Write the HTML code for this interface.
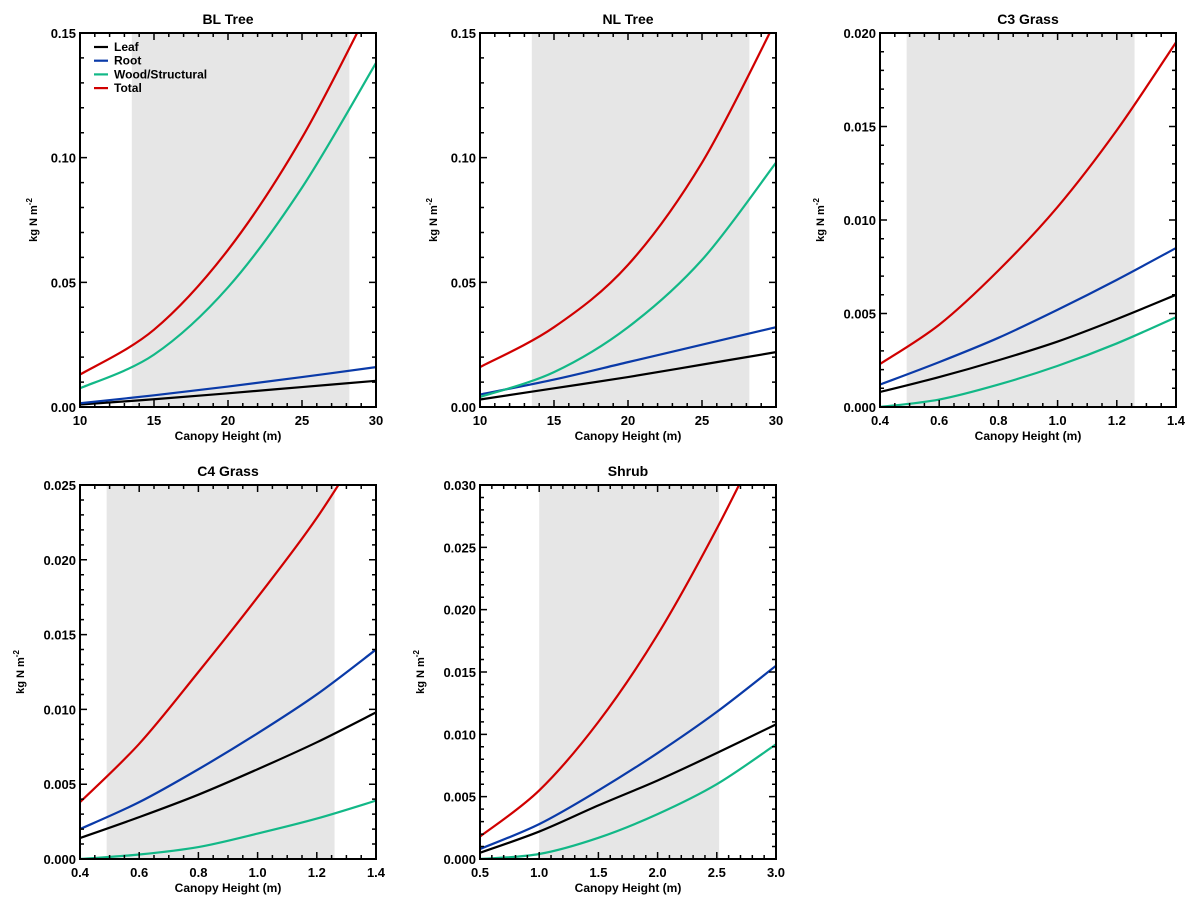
<!DOCTYPE html>
<html><head><meta charset="utf-8">
<style>
body{margin:0;background:#fff;}
svg{display:block;font-family:"Liberation Sans",sans-serif;font-weight:bold;}
</style></head>
<body>
<svg id="c" width="1199" height="911"></svg>
<script>
// ---- data ----
const blX=[10,15,20,25,30];
const blLeaf=[0.001,0.0031,0.0055,0.008,0.0105];
const blRoot=[0.0015,0.0047,0.0082,0.012,0.016];
const blWood=[0.0075,0.021,0.048,0.088,0.138];
const blTotal=[0.013,0.031,0.063,0.108,0.165];
const nlX=[10,15,20,25,30];
const nlLeaf=[0.003,0.0075,0.012,0.017,0.022];
const nlRoot=[0.005,0.011,0.018,0.025,0.032];
const nlWood=[0.004,0.014,0.032,0.059,0.098];
const nlTotal=[0.016,0.032,0.057,0.098,0.155];
const c3X=[0.4,0.6,0.8,1.0,1.2,1.4];
const c3Leaf=[0.0008,0.0016,0.0025,0.0035,0.0047,0.006];
const c3Root=[0.0012,0.0024,0.0037,0.0052,0.0068,0.0085];
const c3Wood=[0.0,0.0004,0.0012,0.0022,0.0034,0.0048];
const c3Total=[0.0023,0.0044,0.0073,0.0107,0.0148,0.0195];
const c4X=[0.4,0.6,0.8,1.0,1.2,1.4];
const c4Leaf=[0.0014,0.0028,0.0043,0.006,0.0078,0.0098];
const c4Root=[0.002,0.0038,0.006,0.0084,0.011,0.014];
const c4Wood=[0.0,0.0003,0.0008,0.0017,0.0027,0.0039];
const c4Total=[0.0038,0.0077,0.0125,0.0175,0.0228,0.029];
const shX=[0.5,1.0,1.5,2.0,2.5,3.0];
const shLeaf=[0.0005,0.0022,0.0043,0.0063,0.0085,0.0108];
const shRoot=[0.0008,0.0028,0.0055,0.0085,0.0118,0.0155];
const shWood=[0.0,0.0004,0.0017,0.0036,0.006,0.0092];
const shTotal=[0.0018,0.0055,0.011,0.018,0.0265,0.036];
const legendLabels=["Leaf","Root","Wood/Structural","Total"];
const colors=["#000000","#0a3aa8","#12b887","#d00000"];

const panels=[
 {name:"bl-tree",title:"BL Tree",x0:80,y0:33,xmin:10,xmax:30,xmaj:[10,15,20,25,30],xminor:1,ymax:0.15,ymaj:[0,0.05,0.10,0.15],yminor:0.01,dec:2,sh:[13.5,28.2],xs:blX,ser:[blLeaf,blRoot,blWood,blTotal],xdec:0,legend:true},
 {name:"nl-tree",title:"NL Tree",x0:480,y0:33,xmin:10,xmax:30,xmaj:[10,15,20,25,30],xminor:1,ymax:0.15,ymaj:[0,0.05,0.10,0.15],yminor:0.01,dec:2,sh:[13.5,28.2],xs:nlX,ser:[nlLeaf,nlRoot,nlWood,nlTotal],xdec:0},
 {name:"c3-grass",title:"C3 Grass",x0:880,y0:33,xmin:0.4,xmax:1.4,xmaj:[0.4,0.6,0.8,1.0,1.2,1.4],xminor:0.05,ymax:0.02,ymaj:[0,0.005,0.010,0.015,0.020],yminor:0.001,dec:3,sh:[0.49,1.26],xs:c3X,ser:[c3Leaf,c3Root,c3Wood,c3Total],xdec:1},
 {name:"c4-grass",title:"C4 Grass",x0:80,y0:485,xmin:0.4,xmax:1.4,xmaj:[0.4,0.6,0.8,1.0,1.2,1.4],xminor:0.05,ymax:0.025,ymaj:[0,0.005,0.010,0.015,0.020,0.025],yminor:0.001,dec:3,sh:[0.49,1.26],xs:c4X,ser:[c4Leaf,c4Root,c4Wood,c4Total],xdec:1},
 {name:"shrub",title:"Shrub",x0:480,y0:485,xmin:0.5,xmax:3.0,xmaj:[0.5,1.0,1.5,2.0,2.5,3.0],xminor:0.1,ymax:0.03,ymaj:[0,0.005,0.010,0.015,0.020,0.025,0.030],yminor:0.001,dec:3,sh:[1.0,2.52],xs:shX,ser:[shLeaf,shRoot,shWood,shTotal],xdec:1}
];
const W=296,H=374;
const NS="http://www.w3.org/2000/svg";
const svg=document.getElementById('c');
function mk(t,a,p){const e=document.createElementNS(NS,t);for(const k in a)e.setAttribute(k,a[k]);(p||svg).appendChild(e);return e;}
function catmull(pts){
 let d="M"+pts[0][0]+","+pts[0][1];
 for(let i=0;i<pts.length-1;i++){
  const p0=pts[Math.max(0,i-1)],p1=pts[i],p2=pts[i+1],p3=pts[Math.min(pts.length-1,i+2)];
  const c1=[p1[0]+(p2[0]-p0[0])/6,p1[1]+(p2[1]-p0[1])/6];
  const c2=[p2[0]-(p3[0]-p1[0])/6,p2[1]-(p3[1]-p1[1])/6];
  d+=" C"+c1[0]+","+c1[1]+" "+c2[0]+","+c2[1]+" "+p2[0]+","+p2[1];
 }
 return d;
}
panels.forEach((p,pi)=>{
 const g=mk('g',{});
 
 
 const X=v=>p.x0+(v-p.xmin)/(p.xmax-p.xmin)*W;
 const Y=v=>p.y0+H-v/p.ymax*H;
 const cid='clip'+pi;
 const cp=mk('clipPath',{id:cid},g);mk('rect',{x:p.x0,y:p.y0,width:W,height:H},cp);
 const s=mk('rect',{x:X(p.sh[0]),y:p.y0,width:X(p.sh[1])-X(p.sh[0]),height:H,fill:"#e6e6e6"},g);
 
 
 const names=["leaf","root","wood","total"];
 p.ser.forEach((vals,si)=>{
  const pts=p.xs.map((x,i)=>[X(x),Y(vals[i])]);
  const l=mk('path',{d:catmull(pts),fill:"none",stroke:colors[si],"stroke-width":2.2,"clip-path":"url(#"+cid+")"},g);
  
  
 });
 // frame
 const fr=mk('rect',{x:p.x0,y:p.y0,width:W,height:H,fill:"none",stroke:"#000","stroke-width":2},g);
 
 
 // ticks
 let tk="";
 const nx=Math.round((p.xmax-p.xmin)/p.xminor);
 for(let i=0;i<=nx;i++){const v=p.xmin+i*p.xminor;const x=X(v);
  const maj=p.xmaj.some(m=>Math.abs(m-v)<1e-6);const L=maj?7:4;
  tk+=`M${x},${p.y0+H}v${-L}M${x},${p.y0}v${L}`;}
 const ny=Math.round(p.ymax/p.yminor);
 for(let i=0;i<=ny;i++){const v=i*p.yminor;const y=Y(v);
  const maj=p.ymaj.some(m=>Math.abs(m-v)<1e-9);const L=maj?7:4;
  tk+=`M${p.x0},${y}h${L}M${p.x0+W},${y}h${-L}`;}
 mk('path',{d:tk,stroke:"#000","stroke-width":1.5,fill:"none"},g);
 p.xmaj.forEach(v=>{const t=mk('text',{x:X(v),y:p.y0+H+18,"text-anchor":"middle","font-size":13},g);t.textContent=v.toFixed(p.xdec);
  });
 p.ymaj.forEach(v=>{const t=mk('text',{x:p.x0-4,y:Y(v)+5,"text-anchor":"end","font-size":13},g);t.textContent=v.toFixed(p.dec);
  });
 const xt=mk('text',{x:p.x0+W/2,y:p.y0+H+33,"text-anchor":"middle","font-size":12},g);xt.textContent="Canopy Height (m)";
 
 const tt=mk('text',{x:p.x0+W/2,y:p.y0-9,"text-anchor":"middle","font-size":14},g);tt.textContent=p.title;
 
 const yx=p.x0-(p.dec==2?43:56),yy=p.y0+H/2;
 const yt=mk('text',{x:yx,y:yy,"text-anchor":"middle","font-size":11,transform:`rotate(-90 ${yx} ${yy})`},g);
 yt.innerHTML='kg N m<tspan dy="-5" font-size="8">-2</tspan>';
 
 if(p.legend){
  legendLabels.forEach((lab,i)=>{
   const y=p.y0+18+i*13.7;
   const lg=mk('g',{},g);
   
   
   mk('line',{x1:p.x0+14,x2:p.x0+28,y1:y-4,y2:y-4,stroke:colors[i],"stroke-width":2.2},lg);
   const t=mk('text',{x:p.x0+34,y:y,"font-size":12},lg);t.textContent=lab;
  });
 }
});
</script>
</body></html>
